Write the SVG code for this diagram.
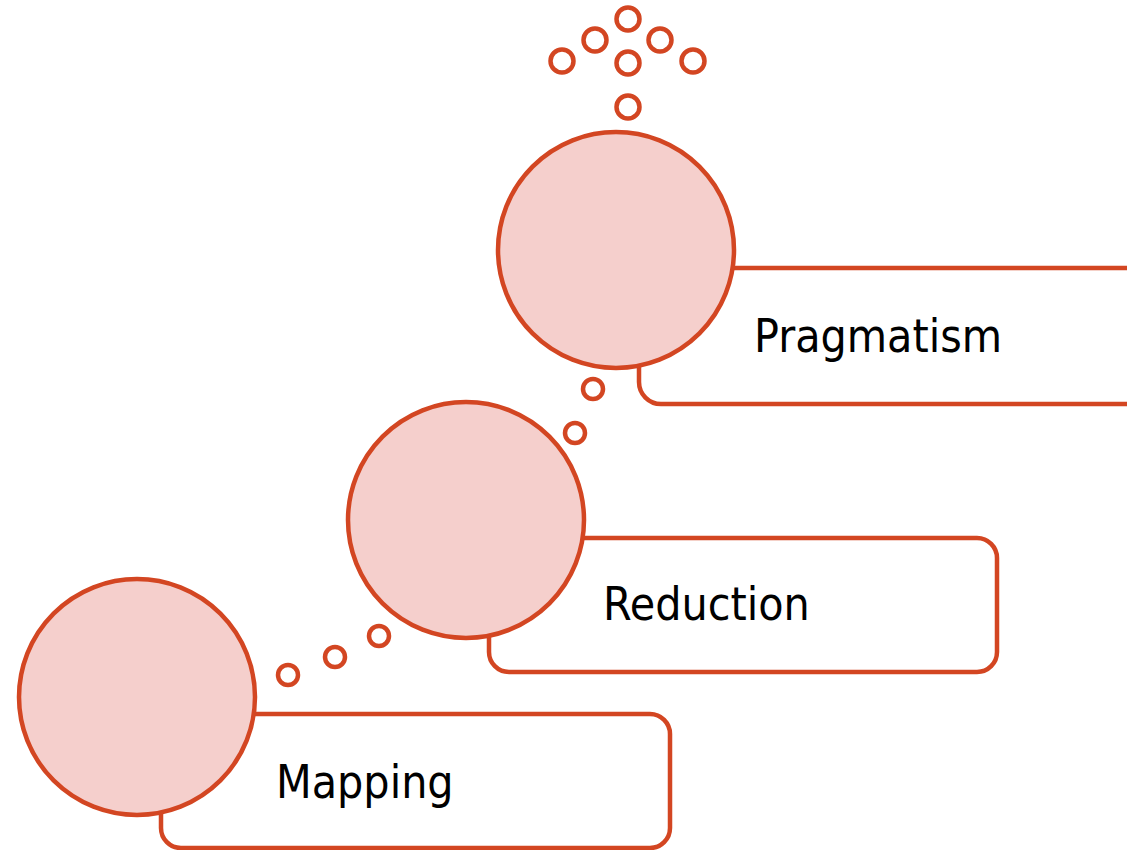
<svg xmlns="http://www.w3.org/2000/svg" width="1127" height="850" viewBox="0 0 1127 850">
<style>
.box{fill:#fff;stroke:#D34622;stroke-width:4.5}
.big{fill:#F5CFCC;stroke:#D34622;stroke-width:4.5}
.dot{fill:none;stroke:#D34622;stroke-width:4.5}
.lbl{font-family:"DejaVu Sans Condensed","DejaVu Sans",sans-serif;font-size:46px;fill:#000}
</style>
<rect width="1127" height="850" fill="#fff"/>
<g id="connectors">
<circle class="dot" cx="288" cy="675" r="10"/>
<circle class="dot" cx="335" cy="657" r="10"/>
<circle class="dot" cx="379" cy="636" r="10"/>
<circle class="dot" cx="575" cy="433" r="10"/>
<circle class="dot" cx="593" cy="389" r="10"/>
<circle class="dot" cx="628" cy="107" r="11.5"/>
<circle class="dot" cx="628" cy="63" r="11.5"/>
<circle class="dot" cx="562" cy="61" r="11.5"/>
<circle class="dot" cx="693" cy="61" r="11.5"/>
<circle class="dot" cx="595" cy="40" r="11.5"/>
<circle class="dot" cx="660" cy="40" r="11.5"/>
<circle class="dot" cx="628" cy="19" r="11.5"/>
</g>
<g id="pragmatism">
<rect class="box" x="639" y="268" width="520" height="136" rx="22"/>
<circle class="big" cx="616" cy="250" r="118"/>
<text class="lbl" x="754" y="352">Pragmatism</text>
</g>
<g id="reduction">
<rect class="box" x="489" y="538" width="508" height="134" rx="20"/>
<circle class="big" cx="466" cy="520" r="118"/>
<text class="lbl" x="603" y="620">Reduction</text>
</g>
<g id="mapping">
<rect class="box" x="161" y="714" width="509" height="134" rx="20"/>
<circle class="big" cx="137" cy="697" r="118"/>
<text class="lbl" x="276" y="798">Mapping</text>
</g>
</svg>
